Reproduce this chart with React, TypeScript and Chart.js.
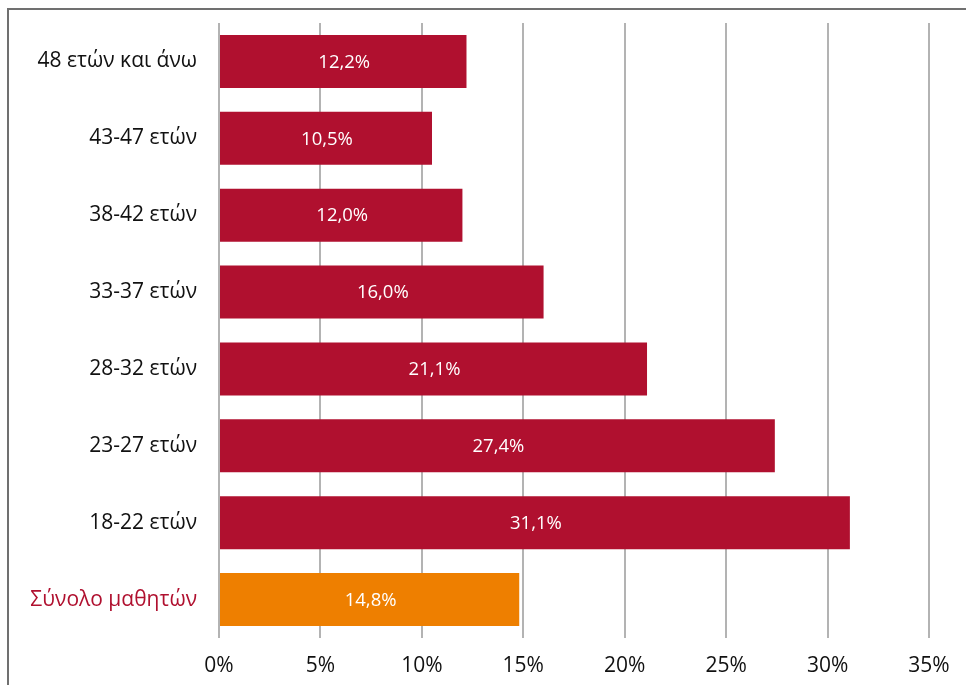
import React, { useEffect, useRef } from "react";
import { Chart, registerables } from "chart.js";

Chart.register(...registerables);

const categories: string[] = [
  "48 ετών και άνω",
  "43-47 ετών",
  "38-42 ετών",
  "33-37 ετών",
  "28-32 ετών",
  "23-27 ετών",
  "18-22 ετών",
  "Σύνολο μαθητών",
];
const values: number[] = [12.2, 10.5, 12.0, 16.0, 21.1, 27.4, 31.1, 14.8];
const xTicks: number[] = [0, 5, 10, 15, 20, 25, 30, 35];

const CRIMSON = "#B0102F";
const ORANGE = "#EE7F00";
const FONT = "'Open Sans', 'Noto Sans', sans-serif";

const barLabels = {
  id: "barLabels",
  afterDatasetsDraw(chart: any) {
    const { ctx } = chart;
    const meta = chart.getDatasetMeta(0);
    ctx.save();
    ctx.fillStyle = "#ffffff";
    ctx.font = `18.5px ${FONT}`;
    ctx.textAlign = "center";
    ctx.textBaseline = "middle";
    meta.data.forEach((bar: any, i: number) => {
      const x = (bar.x + bar.base) / 2;
      const txt = values[i].toFixed(1).replace(".", ",") + "%";
      ctx.fillText(txt, x + 1, bar.y + 1);
    });
    ctx.restore();
  },
};

export default function App() {
  const ref = useRef<HTMLCanvasElement | null>(null);
  useEffect(() => {
    if (!ref.current) return;
    const chart = new Chart(ref.current, {
      type: "bar",
      data: {
        labels: categories,
        datasets: [
          {
            data: values,
            backgroundColor: values.map((_, i) => (i === categories.length - 1 ? ORANGE : CRIMSON)),
            barPercentage: 0.69,
            categoryPercentage: 1,
          },
        ],
      },
      options: {
        indexAxis: "y",
        animation: false,
        responsive: false,
        maintainAspectRatio: false,
        layout: { padding: { left: 0, right: 37, top: 23, bottom: 0 } },
        plugins: { legend: { display: false }, tooltip: { enabled: false } },
        scales: {
          x: {
            min: 0,
            max: 35,
            afterBuildTicks: (scale: any) => {
              scale.ticks = xTicks.map((v) => ({ value: v }));
            },
            afterFit: (scale: any) => {
              scale.height = 47;
            },
            ticks: {
              callback: (v: any) => v + "%",
              color: "#111111",
              font: { family: FONT, size: 21 },
              padding: 15,
            },
            grid: { color: "#b3b3b3", lineWidth: 2, drawTicks: false },
            border: { display: false },
          },
          y: {
            afterFit: (scale: any) => {
              scale.width = 219;
              scale.paddingTop = 0;
              scale.paddingBottom = 0;
            },
            ticks: {
              color: (c: any) => (c.index === categories.length - 1 ? CRIMSON : "#111111"),
              font: { family: FONT, size: 21 },
              padding: 22,
            },
            grid: { display: false, drawTicks: false },
            border: { display: false },
          },
        },
      },
      plugins: [barLabels],
    });
    return () => chart.destroy();
  }, []);
  return (
    <div style={{ position: "absolute", left: 0, top: 0, width: 966, height: 685, background: "#fff" }}>
      <div
        style={{
          position: "absolute",
          left: 7,
          top: 8,
          width: 980,
          height: 700,
          borderTop: "2px solid #707070",
          borderLeft: "2px solid #707070",
        }}
      />
      <canvas ref={ref} width={966} height={685} style={{ position: "absolute", left: 0, top: 0 }} />
    </div>
  );
}
